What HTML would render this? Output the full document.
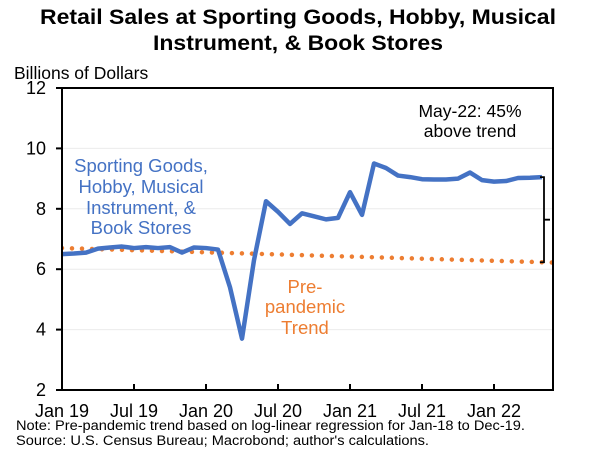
<!DOCTYPE html>
<html><head><meta charset="utf-8"><style>
body{margin:0;background:#fff;width:600px;height:451px;overflow:hidden;font-family:"Liberation Sans",Arial,sans-serif}
svg text{font-family:"Liberation Sans",Arial,sans-serif}
</style></head><body>
<svg id="chart" width="600" height="451" viewBox="0 0 600 451" xmlns="http://www.w3.org/2000/svg">
<text x="298" y="24" text-anchor="middle" font-size="21" font-weight="bold" textLength="516" lengthAdjust="spacingAndGlyphs">Retail Sales at Sporting Goods, Hobby, Musical</text>
<text x="298" y="50" text-anchor="middle" font-size="21" font-weight="bold" textLength="290" lengthAdjust="spacingAndGlyphs">Instrument, &amp; Book Stores</text>
<text x="14" y="79" font-size="17.5">Billions of Dollars</text>
<g id="grid"></g><g id="yticks"></g><g id="xticks"></g>
<clipPath id="pc"><rect x="62" y="88" width="491" height="302"/></clipPath>
<path id="trend" clip-path="url(#pc)" fill="none" stroke="#ED7D31" stroke-width="4.5" stroke-linecap="round" stroke-dasharray="0 10"/>
<path id="sales" fill="none" stroke="#4472C4" stroke-width="4.5" stroke-linejoin="round"/>
<path id="bracket" fill="none" stroke="#000" stroke-width="1.8"/>
<rect x="62" y="88" width="491" height="302" fill="none" stroke="#000" stroke-width="2"/>
<g fill="#4472C4" font-size="18.5" text-anchor="middle">
<text x="141" y="172">Sporting Goods,</text><text x="141" y="193">Hobby, Musical</text>
<text x="141" y="214">Instrument, &amp;</text><text x="141" y="234">Book Stores</text></g>
<g fill="#ED7D31" font-size="18.5" text-anchor="middle">
<text x="305" y="293">Pre-</text><text x="305" y="313">pandemic</text><text x="305" y="334">Trend</text></g>
<g font-size="17.5" text-anchor="middle">
<text x="470" y="117">May-22: 45%</text><text x="470" y="137">above trend</text></g>
<text x="16" y="430" font-size="13.5" textLength="509" lengthAdjust="spacingAndGlyphs">Note: Pre-pandemic trend based on log-linear regression for Jan-18 to Dec-19.</text>
<text x="16" y="445" font-size="13.5" textLength="413" lengthAdjust="spacingAndGlyphs">Source: U.S. Census Bureau; Macrobond; author's calculations.</text>
</svg>
<script>
const yTicks=[2,4,6,8,10,12];
const xTickLabels=["Jan 19","Jul 19","Jan 20","Jul 20","Jan 21","Jul 21","Jan 22"];
const sales=[6.5,6.52,6.55,6.68,6.72,6.75,6.7,6.73,6.7,6.73,6.55,6.72,6.7,6.65,5.4,3.7,6.3,8.25,7.9,7.5,7.85,7.75,7.65,7.7,8.55,7.8,9.5,9.35,9.1,9.05,8.98,8.97,8.97,9.0,9.2,8.95,8.9,8.92,9.02,9.03,9.05];
const trendMonths=[0,40.9];
const trendValues=[6.7,6.22];
const X=m=>62+m*12, Y=v=>390-(v-2)*30.2;
const ns="http://www.w3.org/2000/svg";
const mk=(t,a,p)=>{const e=document.createElementNS(ns,t);for(const k in a)e.setAttribute(k,a[k]);p.appendChild(e);return e;};
const g=document.getElementById('grid'),yt=document.getElementById('yticks'),xt=document.getElementById('xticks');
yTicks.forEach(v=>{
 if(v>2&&v<12){const l=mk('line',{x1:62,x2:553,y1:Y(v),y2:Y(v),stroke:'#ececec','stroke-width':1},g);
 
 }
 const tk=mk('line',{x1:56,x2:62,y1:Y(v),y2:Y(v),stroke:'#000','stroke-width':2},yt);
 
 
 const t=mk('text',{x:46,y:Y(v)+6,'text-anchor':'end','font-size':18},yt);t.textContent=v;
 
 
});
xTickLabels.forEach((s,i)=>{
 const x=X(i*6);
 if(i>0){const tk=mk('line',{x1:x,x2:x,y1:384,y2:390,stroke:'#000','stroke-width':2},xt);
 
 }
 const t=mk('text',{x:x,y:417,'text-anchor':'middle','font-size':18},xt);t.textContent=s;
 
 
});
document.getElementById('sales').setAttribute('d',sales.map((v,i)=>(i?'L':'M')+X(i)+' '+Y(v)).join(''));
document.getElementById('trend').setAttribute('d','M'+X(trendMonths[0])+' '+Y(trendValues[0])+'L'+X(trendMonths[1])+' '+Y(trendValues[1]));
const last=sales.length-1, ye=Y(sales[last]);
const tv=trendValues[0]+(trendValues[1]-trendValues[0])*(last-trendMonths[0])/(trendMonths[1]-trendMonths[0]);
const yb=Y(tv), bx=X(last)+2;
document.getElementById('bracket').setAttribute('d',`M${bx-4} ${ye}H${bx}V${yb}H${bx-4}M${bx} ${(ye+yb)/2}H${bx+6}`);
</script>
</body></html>
